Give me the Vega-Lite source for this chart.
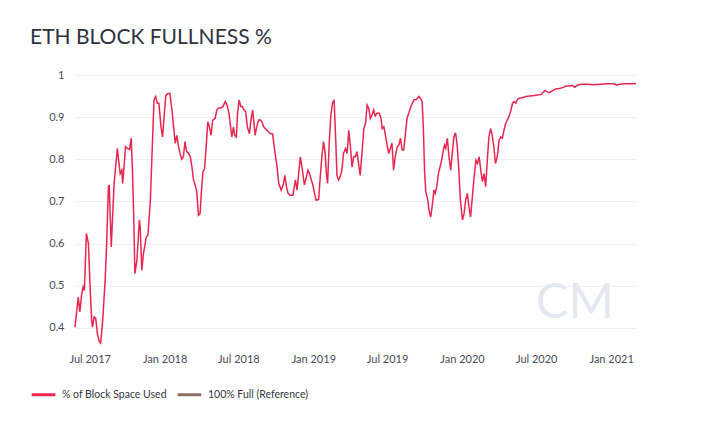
{
  "$schema": "https://vega.github.io/schema/vega-lite/v6.json",
  "description": "ETH block fullness, share of block space used",
  "autosize": "none",
  "width": 561,
  "height": 274,
  "padding": {"left": 75, "top": 75, "right": 74, "bottom": 74},
  "background": "white",
  "title": {
    "text": "ETH BLOCK FULLNESS %",
    "anchor": "start",
    "frame": "group",
    "dx": -45,
    "dy": 28,
    "offset": 32,
    "baseline": "alphabetic",
    "font": "Lato",
    "fontSize": 21,
    "fontWeight": "normal",
    "color": "#2e3240"
  },
  "config": {
    "view": {"stroke": null},
    "axis": {
      "labelFont": "Lato",
      "labelFontSize": 11,
      "labelColor": "#474c58",
      "ticks": false,
      "domain": false,
      "title": null
    },
    "legend": {
      "labelFont": "Lato",
      "labelFontSize": 10.5,
      "labelColor": "#333740"
    }
  },
  "datasets": {
    "fullness": [
      {"date": "2017-05-26", "v": 0.402},
      {"date": "2017-06-03", "v": 0.473},
      {"date": "2017-06-07", "v": 0.438},
      {"date": "2017-06-11", "v": 0.477},
      {"date": "2017-06-15", "v": 0.497},
      {"date": "2017-06-18", "v": 0.489},
      {"date": "2017-06-23", "v": 0.624},
      {"date": "2017-06-28", "v": 0.600},
      {"date": "2017-07-02", "v": 0.497},
      {"date": "2017-07-06", "v": 0.418},
      {"date": "2017-07-08", "v": 0.402},
      {"date": "2017-07-12", "v": 0.426},
      {"date": "2017-07-16", "v": 0.422},
      {"date": "2017-07-20", "v": 0.386},
      {"date": "2017-07-25", "v": 0.367},
      {"date": "2017-07-28", "v": 0.364},
      {"date": "2017-08-02", "v": 0.418},
      {"date": "2017-08-08", "v": 0.513},
      {"date": "2017-08-12", "v": 0.608},
      {"date": "2017-08-16", "v": 0.735},
      {"date": "2017-08-18", "v": 0.739},
      {"date": "2017-08-23", "v": 0.592},
      {"date": "2017-08-27", "v": 0.679},
      {"date": "2017-08-30", "v": 0.743},
      {"date": "2017-09-02", "v": 0.774},
      {"date": "2017-09-07", "v": 0.826},
      {"date": "2017-09-10", "v": 0.798},
      {"date": "2017-09-14", "v": 0.766},
      {"date": "2017-09-18", "v": 0.774},
      {"date": "2017-09-20", "v": 0.743},
      {"date": "2017-09-24", "v": 0.790},
      {"date": "2017-09-27", "v": 0.830},
      {"date": "2017-10-02", "v": 0.826},
      {"date": "2017-10-07", "v": 0.823},
      {"date": "2017-10-11", "v": 0.850},
      {"date": "2017-10-14", "v": 0.774},
      {"date": "2017-10-17", "v": 0.671},
      {"date": "2017-10-20", "v": 0.529},
      {"date": "2017-10-25", "v": 0.560},
      {"date": "2017-10-31", "v": 0.656},
      {"date": "2017-11-02", "v": 0.640},
      {"date": "2017-11-06", "v": 0.537},
      {"date": "2017-11-10", "v": 0.576},
      {"date": "2017-11-17", "v": 0.616},
      {"date": "2017-11-21", "v": 0.620},
      {"date": "2017-11-27", "v": 0.703},
      {"date": "2017-12-02", "v": 0.838},
      {"date": "2017-12-06", "v": 0.941},
      {"date": "2017-12-10", "v": 0.949},
      {"date": "2017-12-14", "v": 0.933},
      {"date": "2017-12-18", "v": 0.933},
      {"date": "2017-12-23", "v": 0.877},
      {"date": "2017-12-27", "v": 0.853},
      {"date": "2017-12-31", "v": 0.905},
      {"date": "2018-01-04", "v": 0.952},
      {"date": "2018-01-09", "v": 0.956},
      {"date": "2018-01-14", "v": 0.956},
      {"date": "2018-01-19", "v": 0.917},
      {"date": "2018-01-23", "v": 0.877},
      {"date": "2018-01-27", "v": 0.838},
      {"date": "2018-01-31", "v": 0.857},
      {"date": "2018-02-04", "v": 0.830},
      {"date": "2018-02-08", "v": 0.814},
      {"date": "2018-02-12", "v": 0.800},
      {"date": "2018-02-16", "v": 0.806},
      {"date": "2018-02-20", "v": 0.842},
      {"date": "2018-02-24", "v": 0.818},
      {"date": "2018-02-28", "v": 0.816},
      {"date": "2018-03-05", "v": 0.806},
      {"date": "2018-03-09", "v": 0.782},
      {"date": "2018-03-13", "v": 0.751},
      {"date": "2018-03-17", "v": 0.739},
      {"date": "2018-03-21", "v": 0.723},
      {"date": "2018-03-25", "v": 0.667},
      {"date": "2018-03-29", "v": 0.671},
      {"date": "2018-04-01", "v": 0.719},
      {"date": "2018-04-05", "v": 0.770},
      {"date": "2018-04-09", "v": 0.778},
      {"date": "2018-04-13", "v": 0.830},
      {"date": "2018-04-17", "v": 0.889},
      {"date": "2018-04-21", "v": 0.877},
      {"date": "2018-04-25", "v": 0.857},
      {"date": "2018-04-29", "v": 0.893},
      {"date": "2018-05-05", "v": 0.897},
      {"date": "2018-05-09", "v": 0.917},
      {"date": "2018-05-13", "v": 0.922},
      {"date": "2018-05-19", "v": 0.922},
      {"date": "2018-05-24", "v": 0.925},
      {"date": "2018-05-30", "v": 0.937},
      {"date": "2018-06-03", "v": 0.929},
      {"date": "2018-06-08", "v": 0.909},
      {"date": "2018-06-13", "v": 0.869},
      {"date": "2018-06-15", "v": 0.853},
      {"date": "2018-06-19", "v": 0.877},
      {"date": "2018-06-22", "v": 0.857},
      {"date": "2018-06-26", "v": 0.853},
      {"date": "2018-06-29", "v": 0.909},
      {"date": "2018-07-03", "v": 0.941},
      {"date": "2018-07-07", "v": 0.925},
      {"date": "2018-07-11", "v": 0.925},
      {"date": "2018-07-15", "v": 0.917},
      {"date": "2018-07-19", "v": 0.913},
      {"date": "2018-07-23", "v": 0.877},
      {"date": "2018-07-28", "v": 0.861},
      {"date": "2018-08-01", "v": 0.893},
      {"date": "2018-08-05", "v": 0.917},
      {"date": "2018-08-08", "v": 0.889},
      {"date": "2018-08-11", "v": 0.857},
      {"date": "2018-08-15", "v": 0.877},
      {"date": "2018-08-20", "v": 0.893},
      {"date": "2018-08-24", "v": 0.893},
      {"date": "2018-08-28", "v": 0.889},
      {"date": "2018-09-01", "v": 0.877},
      {"date": "2018-09-05", "v": 0.873},
      {"date": "2018-09-09", "v": 0.869},
      {"date": "2018-09-13", "v": 0.865},
      {"date": "2018-09-17", "v": 0.861},
      {"date": "2018-09-23", "v": 0.860},
      {"date": "2018-09-28", "v": 0.822},
      {"date": "2018-10-04", "v": 0.782},
      {"date": "2018-10-08", "v": 0.743},
      {"date": "2018-10-14", "v": 0.727},
      {"date": "2018-10-19", "v": 0.739},
      {"date": "2018-10-23", "v": 0.762},
      {"date": "2018-10-27", "v": 0.735},
      {"date": "2018-10-31", "v": 0.719},
      {"date": "2018-11-05", "v": 0.715},
      {"date": "2018-11-12", "v": 0.715},
      {"date": "2018-11-18", "v": 0.751},
      {"date": "2018-11-22", "v": 0.727},
      {"date": "2018-11-26", "v": 0.766},
      {"date": "2018-11-30", "v": 0.806},
      {"date": "2018-12-04", "v": 0.782},
      {"date": "2018-12-10", "v": 0.739},
      {"date": "2018-12-15", "v": 0.759},
      {"date": "2018-12-19", "v": 0.774},
      {"date": "2018-12-23", "v": 0.766},
      {"date": "2018-12-27", "v": 0.751},
      {"date": "2018-12-31", "v": 0.739},
      {"date": "2019-01-04", "v": 0.719},
      {"date": "2019-01-08", "v": 0.703},
      {"date": "2019-01-14", "v": 0.705},
      {"date": "2019-01-18", "v": 0.759},
      {"date": "2019-01-22", "v": 0.806},
      {"date": "2019-01-26", "v": 0.842},
      {"date": "2019-01-30", "v": 0.814},
      {"date": "2019-02-02", "v": 0.766},
      {"date": "2019-02-05", "v": 0.743},
      {"date": "2019-02-09", "v": 0.838},
      {"date": "2019-02-13", "v": 0.905},
      {"date": "2019-02-17", "v": 0.933},
      {"date": "2019-02-21", "v": 0.941},
      {"date": "2019-02-25", "v": 0.846},
      {"date": "2019-02-28", "v": 0.762},
      {"date": "2019-03-04", "v": 0.751},
      {"date": "2019-03-08", "v": 0.759},
      {"date": "2019-03-12", "v": 0.774},
      {"date": "2019-03-16", "v": 0.814},
      {"date": "2019-03-21", "v": 0.826},
      {"date": "2019-03-25", "v": 0.814},
      {"date": "2019-03-29", "v": 0.869},
      {"date": "2019-04-02", "v": 0.830},
      {"date": "2019-04-06", "v": 0.782},
      {"date": "2019-04-10", "v": 0.806},
      {"date": "2019-04-14", "v": 0.806},
      {"date": "2019-04-18", "v": 0.818},
      {"date": "2019-04-22", "v": 0.790},
      {"date": "2019-04-26", "v": 0.762},
      {"date": "2019-05-01", "v": 0.822},
      {"date": "2019-05-05", "v": 0.873},
      {"date": "2019-05-09", "v": 0.885},
      {"date": "2019-05-13", "v": 0.929},
      {"date": "2019-05-17", "v": 0.921},
      {"date": "2019-05-21", "v": 0.897},
      {"date": "2019-05-25", "v": 0.905},
      {"date": "2019-05-29", "v": 0.917},
      {"date": "2019-06-02", "v": 0.903},
      {"date": "2019-06-06", "v": 0.909},
      {"date": "2019-06-12", "v": 0.909},
      {"date": "2019-06-16", "v": 0.897},
      {"date": "2019-06-19", "v": 0.873},
      {"date": "2019-06-23", "v": 0.877},
      {"date": "2019-06-27", "v": 0.857},
      {"date": "2019-07-01", "v": 0.834},
      {"date": "2019-07-05", "v": 0.814},
      {"date": "2019-07-09", "v": 0.826},
      {"date": "2019-07-13", "v": 0.838},
      {"date": "2019-07-17", "v": 0.774},
      {"date": "2019-07-21", "v": 0.806},
      {"date": "2019-07-26", "v": 0.830},
      {"date": "2019-07-30", "v": 0.834},
      {"date": "2019-08-03", "v": 0.850},
      {"date": "2019-08-07", "v": 0.822},
      {"date": "2019-08-11", "v": 0.822},
      {"date": "2019-08-15", "v": 0.861},
      {"date": "2019-08-19", "v": 0.897},
      {"date": "2019-08-23", "v": 0.909},
      {"date": "2019-08-27", "v": 0.921},
      {"date": "2019-09-01", "v": 0.933},
      {"date": "2019-09-05", "v": 0.941},
      {"date": "2019-09-11", "v": 0.942},
      {"date": "2019-09-17", "v": 0.949},
      {"date": "2019-09-21", "v": 0.945},
      {"date": "2019-09-25", "v": 0.937},
      {"date": "2019-09-28", "v": 0.877},
      {"date": "2019-10-01", "v": 0.774},
      {"date": "2019-10-04", "v": 0.723},
      {"date": "2019-10-09", "v": 0.703},
      {"date": "2019-10-12", "v": 0.679},
      {"date": "2019-10-16", "v": 0.663},
      {"date": "2019-10-20", "v": 0.691},
      {"date": "2019-10-24", "v": 0.727},
      {"date": "2019-10-27", "v": 0.719},
      {"date": "2019-10-31", "v": 0.735},
      {"date": "2019-11-04", "v": 0.766},
      {"date": "2019-11-08", "v": 0.782},
      {"date": "2019-11-12", "v": 0.798},
      {"date": "2019-11-16", "v": 0.822},
      {"date": "2019-11-19", "v": 0.834},
      {"date": "2019-11-22", "v": 0.826},
      {"date": "2019-11-26", "v": 0.850},
      {"date": "2019-11-30", "v": 0.806},
      {"date": "2019-12-04", "v": 0.774},
      {"date": "2019-12-08", "v": 0.814},
      {"date": "2019-12-12", "v": 0.853},
      {"date": "2019-12-16", "v": 0.863},
      {"date": "2019-12-20", "v": 0.834},
      {"date": "2019-12-24", "v": 0.778},
      {"date": "2019-12-28", "v": 0.703},
      {"date": "2020-01-02", "v": 0.656},
      {"date": "2020-01-06", "v": 0.671},
      {"date": "2020-01-10", "v": 0.703},
      {"date": "2020-01-14", "v": 0.719},
      {"date": "2020-01-18", "v": 0.687},
      {"date": "2020-01-22", "v": 0.663},
      {"date": "2020-01-26", "v": 0.707},
      {"date": "2020-01-30", "v": 0.751},
      {"date": "2020-02-04", "v": 0.798},
      {"date": "2020-02-08", "v": 0.790},
      {"date": "2020-02-12", "v": 0.806},
      {"date": "2020-02-16", "v": 0.774},
      {"date": "2020-02-20", "v": 0.747},
      {"date": "2020-02-24", "v": 0.766},
      {"date": "2020-02-28", "v": 0.735},
      {"date": "2020-03-03", "v": 0.798},
      {"date": "2020-03-07", "v": 0.853},
      {"date": "2020-03-11", "v": 0.873},
      {"date": "2020-03-15", "v": 0.857},
      {"date": "2020-03-19", "v": 0.830},
      {"date": "2020-03-23", "v": 0.790},
      {"date": "2020-03-28", "v": 0.810},
      {"date": "2020-04-01", "v": 0.846},
      {"date": "2020-04-05", "v": 0.853},
      {"date": "2020-04-09", "v": 0.850},
      {"date": "2020-04-13", "v": 0.869},
      {"date": "2020-04-17", "v": 0.885},
      {"date": "2020-04-21", "v": 0.893},
      {"date": "2020-04-25", "v": 0.901},
      {"date": "2020-04-29", "v": 0.913},
      {"date": "2020-05-04", "v": 0.933},
      {"date": "2020-05-08", "v": 0.937},
      {"date": "2020-05-12", "v": 0.933},
      {"date": "2020-05-16", "v": 0.942},
      {"date": "2020-05-20", "v": 0.945},
      {"date": "2020-05-28", "v": 0.946},
      {"date": "2020-06-05", "v": 0.949},
      {"date": "2020-06-14", "v": 0.950},
      {"date": "2020-06-22", "v": 0.951},
      {"date": "2020-06-30", "v": 0.952},
      {"date": "2020-07-08", "v": 0.953},
      {"date": "2020-07-14", "v": 0.954},
      {"date": "2020-07-19", "v": 0.960},
      {"date": "2020-07-23", "v": 0.963},
      {"date": "2020-07-29", "v": 0.960},
      {"date": "2020-08-03", "v": 0.958},
      {"date": "2020-08-10", "v": 0.963},
      {"date": "2020-08-18", "v": 0.967},
      {"date": "2020-08-26", "v": 0.968},
      {"date": "2020-09-04", "v": 0.970},
      {"date": "2020-09-12", "v": 0.974},
      {"date": "2020-09-20", "v": 0.974},
      {"date": "2020-09-28", "v": 0.975},
      {"date": "2020-10-04", "v": 0.971},
      {"date": "2020-10-09", "v": 0.975},
      {"date": "2020-10-19", "v": 0.978},
      {"date": "2020-11-04", "v": 0.978},
      {"date": "2020-11-20", "v": 0.977},
      {"date": "2020-12-07", "v": 0.978},
      {"date": "2020-12-23", "v": 0.979},
      {"date": "2021-01-09", "v": 0.979},
      {"date": "2021-01-14", "v": 0.976},
      {"date": "2021-01-21", "v": 0.978},
      {"date": "2021-02-02", "v": 0.979},
      {"date": "2021-02-19", "v": 0.979},
      {"date": "2021-03-03", "v": 0.980}
    ],
    "watermark": [
      {"date": "2020-10-04", "v": 0.458, "label": "CM"}
    ]
  },
  "encoding": {
    "x": {
      "field": "date",
      "type": "temporal",
      "scale": {
        "domain": [
          {"year": 2017, "month": 5, "date": 26},
          {"year": 2021, "month": 3, "date": 3}
        ]
      },
      "axis": {
        "grid": false,
        "format": "%b %Y",
        "labelPadding": 4,
        "labelFlush": false,
        "labelOverlap": false,
        "values": [
          {"year": 2017, "month": 7, "date": 1},
          {"year": 2018, "month": 1, "date": 1},
          {"year": 2018, "month": 7, "date": 1},
          {"year": 2019, "month": 1, "date": 1},
          {"year": 2019, "month": 7, "date": 1},
          {"year": 2020, "month": 1, "date": 1},
          {"year": 2020, "month": 7, "date": 1},
          {"year": 2021, "month": 1, "date": 1}
        ]
      }
    }
  },
  "layer": [
    {
      "data": {"name": "watermark"},
      "mark": {
        "type": "text",
        "font": "Lato",
        "fontSize": 49,
        "fontWeight": "normal",
        "color": "#e4e8f0"
      },
      "encoding": {
        "y": {"field": "v", "type": "quantitative"},
        "text": {"field": "label"}
      }
    },
    {
      "mark": {"type": "rule", "strokeWidth": 1, "color": "#d9c9c2"},
      "encoding": {
        "y": {"datum": 1}
      }
    },
    {
      "data": {"name": "fullness"},
      "mark": {"type": "line", "strokeWidth": 1.5, "interpolate": "linear"},
      "encoding": {
        "y": {
          "field": "v",
          "type": "quantitative",
          "scale": {"domain": [0.35, 1.0], "nice": false, "zero": false},
          "axis": {
            "values": [0.4, 0.5, 0.6, 0.7, 0.8, 0.9, 1.0],
            "format": ".1~f",
            "gridColor": "#f0f0f2",
            "gridWidth": 1,
            "labelPadding": 11
          }
        },
        "color": {
          "datum": "% of Block Space Used",
          "type": "nominal",
          "scale": {
            "domain": ["% of Block Space Used", "100% Full (Reference)"],
            "range": ["#e8264f", "#8d6e63"]
          },
          "legend": {
            "title": null,
            "orient": "none",
            "direction": "horizontal",
            "legendX": -45,
            "legendY": 306,
            "symbolType": "stroke",
            "symbolSize": 560,
            "symbolStrokeWidth": 3,
            "symbolOpacity": 1,
            "columnPadding": 4,
            "labelOffset": 5
          }
        }
      }
    }
  ]
}
